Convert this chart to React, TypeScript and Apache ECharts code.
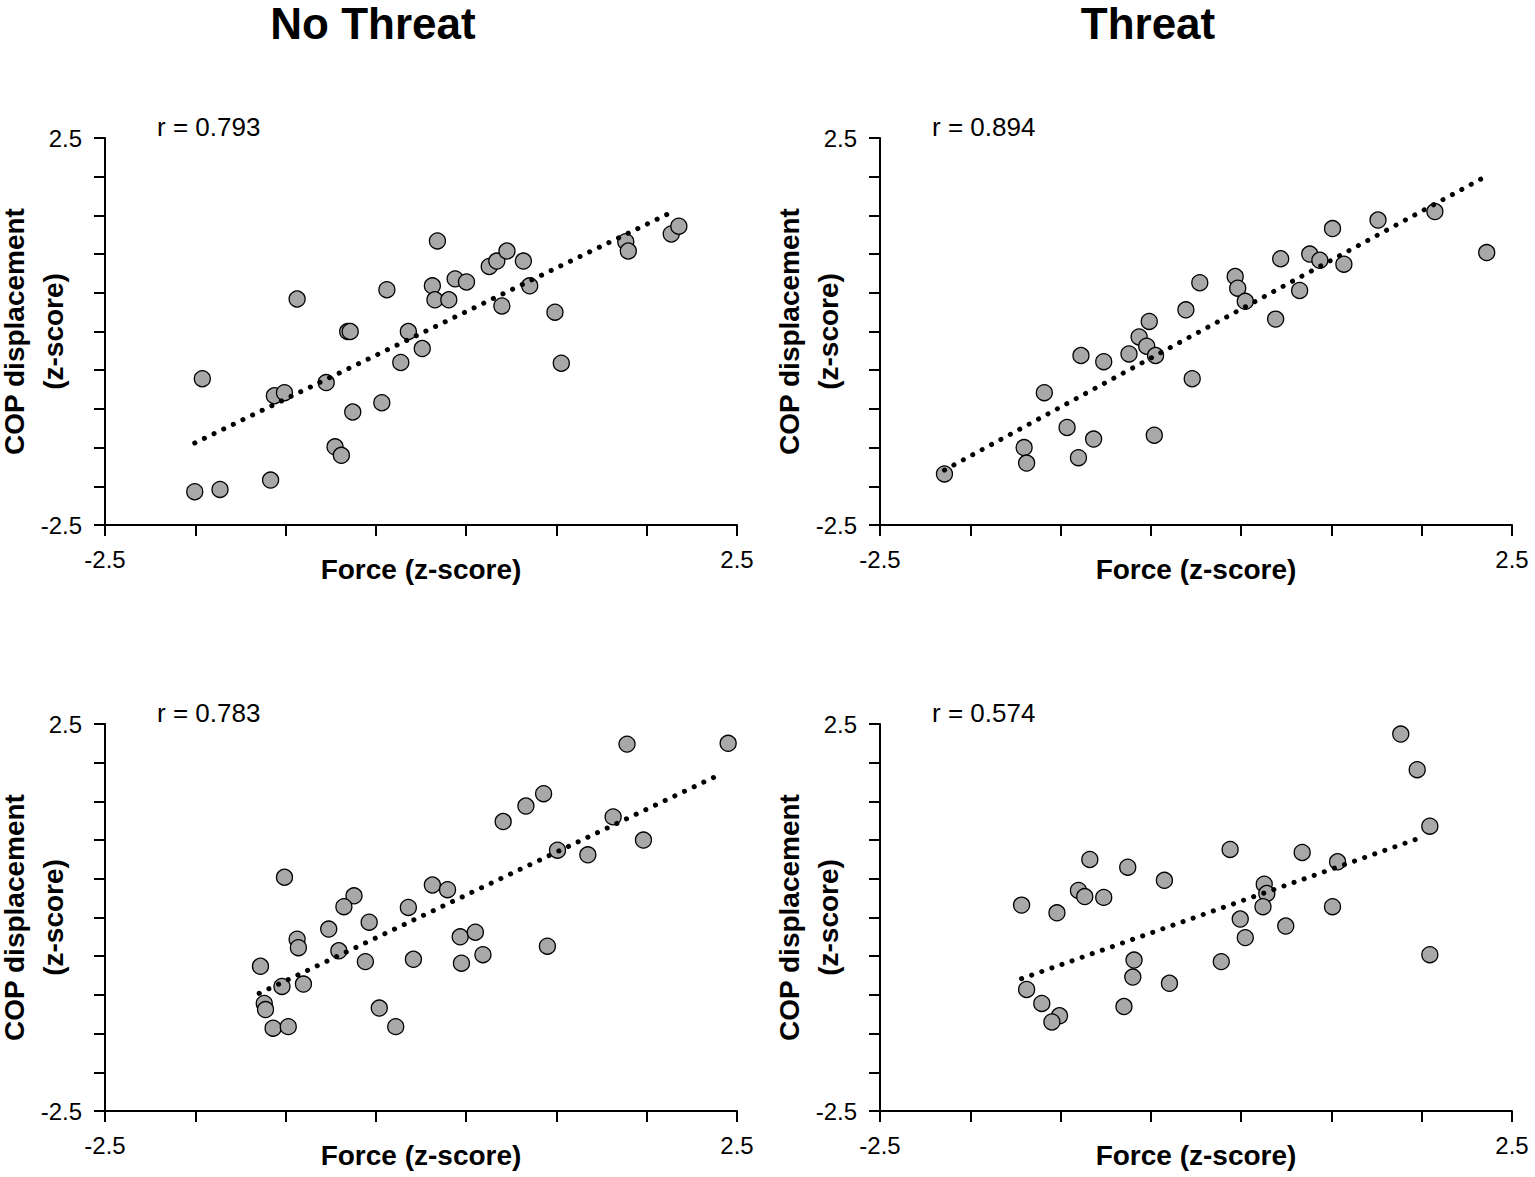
import { useEffect, useRef } from "react"
import * as echarts from "echarts"

// column headings and correlation per panel (TL, TR, BL, BR)
const columnTitles = ["No Threat", "Threat"]
const rValues = ["0.793", "0.894", "0.783", "0.574"]

// axes: -2.5..2.5, x has 7 tick intervals, y every 0.5, labels only at the ends
const xTickValues = [-2.5, -1.7857, -1.0714, -0.3571, 0.3571, 1.0714, 1.7857, 2.5]
const endLabelValues = [-2.5, 2.5]
const xAxisTitle = "Force (z-score)"
const yAxisTitle = "COP displacement\n(z-score)"

// top-left
const tlForce = [-1.79, -1.59, -1.19, -1.73, -0.98, -1.16, -1.08, -0.75, -0.58, -0.56, -0.54, -0.68, -0.63, -0.31, -0.27, -0.16, -0.1, 0.01, 0.13, 0.09, 0.11, 0.22, 0.27, 0.36, 0.54, 0.6, 0.68, 0.81, 0.86, 0.64, 1.06, 1.11, 1.62, 1.64, 1.98, 2.04]
const tlCop = [-2.07, -2.04, -1.92, -0.61, 0.42, -0.83, -0.79, -0.66, 0.0, 0.0, -1.04, -1.49, -1.6, -0.92, 0.54, -0.4, 0.0, -0.22, 1.17, 0.59, 0.41, 0.41, 0.68, 0.64, 0.84, 0.91, 1.04, 0.91, 0.59, 0.33, 0.25, -0.41, 1.16, 1.04, 1.26, 1.36]
const tlFitForce = [-1.79, 2.0]
const tlFitCop = [-1.44, 1.555]

// top-right
const trForce = [-1.99, -1.36, -1.34, -1.2, -1.02, -0.93, -0.81, -0.91, -0.73, -0.53, -0.45, -0.39, -0.37, -0.32, -0.33, -0.08, -0.03, 0.03, 0.31, 0.33, 0.39, 0.63, 0.67, 0.82, 0.9, 0.98, 1.17, 1.08, 1.44, 1.89, 2.3]
const trCop = [-1.84, -1.5, -1.7, -0.79, -1.24, -1.63, -1.39, -0.31, -0.39, -0.29, -0.07, -0.19, 0.13, -0.31, -1.34, 0.28, -0.61, 0.63, 0.71, 0.56, 0.39, 0.16, 0.94, 0.53, 1.0, 0.92, 0.87, 1.33, 1.44, 1.55, 1.02]
const trFitForce = [-1.99, 2.3]
const trFitCop = [-1.79, 2.01]

// bottom-left
const blForce = [1.63, 2.43, 0.97, 0.83, 0.65, 1.52, 1.76, 1.08, 1.32, -1.08, 0.09, 0.21, -0.53, -0.61, -0.1, -0.41, -0.73, -0.98, -0.97, -0.65, -0.44, -0.06, 0.31, 0.43, 0.32, 0.49, 1.0, -1.27, -1.1, -0.93, -1.24, -1.23, -1.17, -1.05, -0.33, -0.2]
const blCop = [2.24, 2.25, 1.6, 1.44, 1.24, 1.3, 1.0, 0.87, 0.81, 0.52, 0.42, 0.36, 0.28, 0.14, 0.13, -0.06, -0.15, -0.28, -0.39, -0.43, -0.57, -0.54, -0.25, -0.19, -0.59, -0.48, -0.37, -0.63, -0.89, -0.86, -1.11, -1.19, -1.43, -1.41, -1.17, -1.41]
const blFitForce = [-1.28, 2.38]
const blFitCop = [-0.98, 1.86]

// bottom-right
const brForce = [1.62, 1.75, 1.85, 1.85, 0.27, 0.84, 1.12, 1.08, 0.54, 0.56, 0.53, 0.35, 0.71, 0.39, 0.2, -0.25, -0.54, -0.84, -0.93, -0.88, -0.73, -1.38, -1.1, -0.49, -0.5, -0.21, -0.57, -1.34, -1.22, -1.08, -1.14]
const brCop = [2.37, 1.91, 1.18, -0.48, 0.88, 0.84, 0.72, 0.14, 0.43, 0.31, 0.14, -0.02, -0.11, -0.26, -0.57, 0.48, 0.65, 0.75, 0.35, 0.27, 0.26, 0.16, 0.06, -0.55, -0.77, -0.85, -1.15, -0.93, -1.11, -1.27, -1.35]
const brFitForce = [-1.38, 1.81]
const brFitCop = [-0.79, 1.05]

const panels = [
  { force: tlForce, cop: tlCop, fitForce: tlFitForce, fitCop: tlFitCop },
  { force: trForce, cop: trCop, fitForce: trFitForce, fitCop: trFitCop },
  { force: blForce, cop: blCop, fitForce: blFitForce, fitCop: blFitCop },
  { force: brForce, cop: brCop, fitForce: brFitForce, fitCop: brFitCop },
]

const FONT = "'Liberation Sans', Arial, Helvetica, sans-serif"
const GRID_W = 632
const GRID_H = 387
const gridPos = [
  { left: 105, top: 138 },
  { left: 880, top: 138 },
  { left: 105, top: 724 },
  { left: 880, top: 724 },
]
const axisLine = { show: true, onZero: false, lineStyle: { color: "#000", width: 2 } }
const tickStyle = { color: "#000", width: 2 }
const labelStyle = { color: "#000", fontSize: 24, fontFamily: FONT }

export default function App() {
  const ref = useRef<HTMLDivElement>(null)

  useEffect(() => {
    if (!ref.current) return
    const chart = echarts.init(ref.current, null, { renderer: "svg" })

    const graphic: any[] = []
    columnTitles.forEach((t, i) => {
      graphic.push({
        type: "text",
        x: [373, 1148][i],
        y: 23,
        style: { text: t, font: `bold 44px ${FONT}`, fill: "#000", align: "center", verticalAlign: "middle" },
      })
    })
    gridPos.forEach((g, i) => {
      graphic.push({
        type: "text",
        x: g.left + 52,
        y: g.top - 11,
        style: { text: `r = ${rValues[i]}`, font: `26px ${FONT}`, fill: "#000", align: "left", verticalAlign: "middle" },
      })
      graphic.push({
        type: "text",
        x: g.left - 71,
        y: g.top + GRID_H / 2,
        rotation: Math.PI / 2,
        style: {
          text: yAxisTitle,
          font: `bold 28px ${FONT}`,
          lineHeight: 39,
          fill: "#000",
          align: "center",
          verticalAlign: "middle",
        },
      })
    })

    chart.setOption({
      animation: false,
      backgroundColor: "#fff",
      grid: gridPos.map((g) => ({
        left: g.left,
        top: g.top,
        width: GRID_W,
        height: GRID_H,
        containLabel: false,
        outerBoundsMode: "none",
      })),
      xAxis: gridPos.map((_, i) => ({
        gridIndex: i,
        type: "value",
        min: -2.5,
        max: 2.5,
        splitLine: { show: false },
        axisLine,
        axisTick: { show: true, length: 11, customValues: xTickValues, lineStyle: tickStyle },
        axisLabel: { ...labelStyle, customValues: endLabelValues, margin: 22 },
        name: xAxisTitle,
        nameLocation: "middle",
        nameGap: 30,
        nameMoveOverlap: false,
        nameTextStyle: { color: "#000", fontSize: 28, fontWeight: "bold", fontFamily: FONT },
      })),
      yAxis: gridPos.map((_, i) => ({
        gridIndex: i,
        type: "value",
        min: -2.5,
        max: 2.5,
        interval: 0.5,
        splitLine: { show: false },
        axisLine,
        axisTick: { show: true, length: 11, lineStyle: tickStyle },
        axisLabel: { ...labelStyle, customValues: endLabelValues, margin: 23 },
      })),
      series: panels.flatMap((p, i) => [
        {
          type: "scatter",
          xAxisIndex: i,
          yAxisIndex: i,
          data: p.force.map((x, j) => [x, p.cop[j]]),
          symbol: "circle",
          symbolSize: 16,
          itemStyle: { color: "#a8a8a8", borderColor: "#000", borderWidth: 1.3, opacity: 1 },
          z: 2,
        },
        {
          type: "line",
          xAxisIndex: i,
          yAxisIndex: i,
          data: p.fitForce.map((x, j) => [x, p.fitCop[j]]),
          symbol: "none",
          lineStyle: { color: "#000", width: 5, type: [0.1, 10.6], cap: "round" },
          z: 3,
        },
      ]),
      graphic,
    })

    return () => chart.dispose()
  }, [])

  return (
    <div
      ref={ref}
      style={{ position: "absolute", left: 0, top: 0, width: 1535, height: 1177, background: "#fff" }}
    />
  )
}
